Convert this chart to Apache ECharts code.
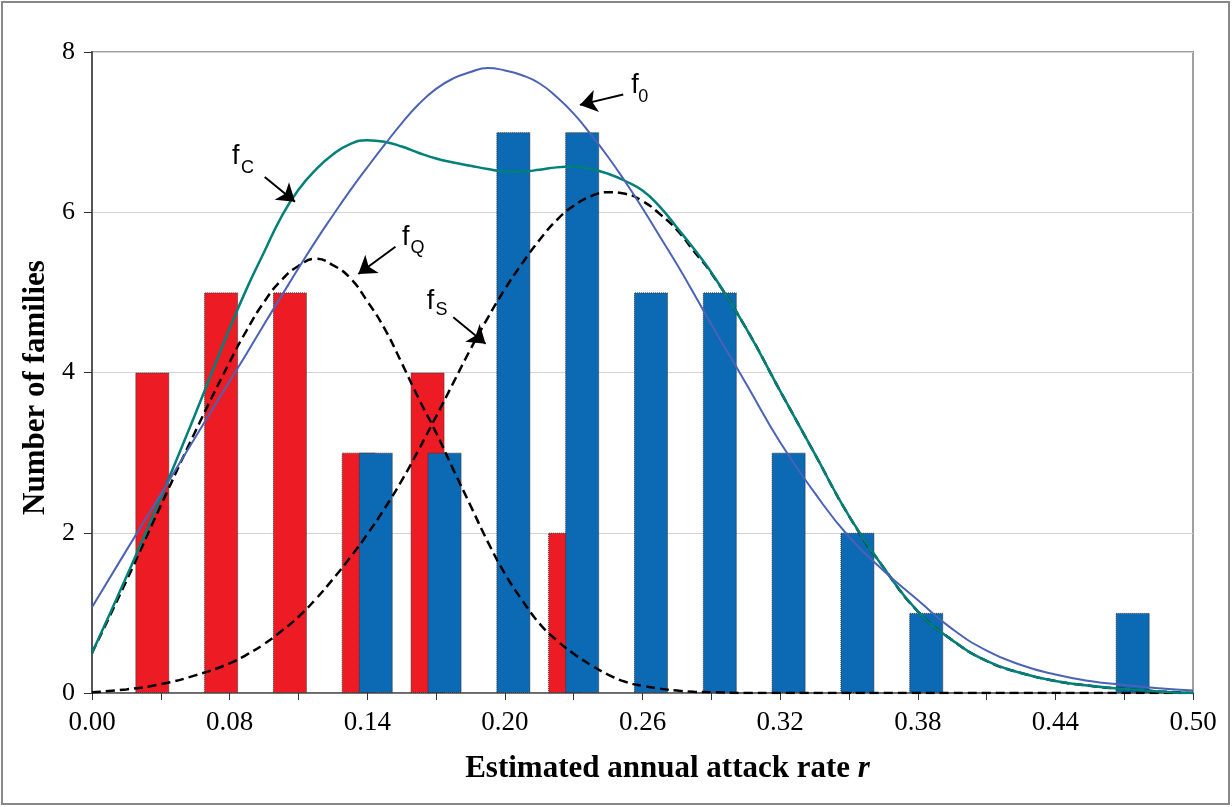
<!DOCTYPE html>
<html>
<head>
<meta charset="utf-8">
<script src="https://cdn.jsdelivr.net/npm/echarts@6/dist/echarts.min.js"></script>
<style>
  html, body { margin: 0; padding: 0; background: #fff; }
  #chart { width: 1232px; height: 807px; }
</style>
</head>
<body>
<div id="chart"></div>
<script>
// labels written under every second tick of the x axis
const tickLabels = ['0.00', '0.08', '0.14', '0.20', '0.26', '0.32', '0.38', '0.44', '0.50'];

// red bars (tick index, number of families)
const redPos = [1, 2, 3, 4, 5, 7];
const redCount = [4, 5, 5, 3, 4, 2];
// blue bars
const bluePos = [4, 5, 6, 7, 8, 9, 10, 11, 12, 15];
const blueCount = [3, 3, 7, 7, 5, 5, 3, 2, 1, 1];

// curves (denser where they bend)
const curveX = [0, 0.5, 1, 1.5, 2, 2.25, 2.5, 2.75, 3, 3.25, 3.5, 3.75, 4, 4.25, 4.5, 4.75, 5, 5.25, 5.5, 5.75,
  6, 6.25, 6.5, 6.75, 7, 7.25, 7.5, 7.75, 8, 8.25, 8.5, 8.75, 9, 9.5, 10, 10.5, 11, 11.5, 12, 12.5, 13, 13.5,
  14, 14.5, 15, 15.5, 16];
const f0 = [1.07, 1.78, 2.48, 3.19, 3.89, 4.24, 4.60, 4.95, 5.30, 5.64, 5.96, 6.27, 6.56, 6.84, 7.11, 7.35, 7.54,
  7.67, 7.75, 7.80, 7.77, 7.71, 7.61, 7.44, 7.23, 6.97, 6.69, 6.38, 6.05, 5.70, 5.35, 4.98, 4.60, 3.87, 3.13,
  2.50, 1.95, 1.53, 1.16, 0.80, 0.53, 0.35, 0.23, 0.15, 0.10, 0.06, 0.03];
const fC = [0.50, 1.45, 2.44, 3.48, 4.55, 5.05, 5.50, 5.94, 6.28, 6.53, 6.72, 6.85, 6.90, 6.88, 6.82, 6.74, 6.67,
  6.62, 6.58, 6.54, 6.51, 6.51, 6.53, 6.56, 6.57, 6.54, 6.48, 6.39, 6.27, 6.07, 5.81, 5.54, 5.25, 4.56, 3.77,
  2.99, 2.21, 1.57, 1.02, 0.66, 0.40, 0.25, 0.15, 0.09, 0.05, 0.02, 0.0];
const fQ = [0.50, 1.40, 2.34, 3.26, 4.13, 4.53, 4.88, 5.15, 5.33, 5.42, 5.34, 5.18, 4.89, 4.55, 4.12, 3.67, 3.25,
  2.79, 2.34, 1.89, 1.49, 1.16, 0.87, 0.66, 0.49, 0.35, 0.23, 0.14, 0.09, 0.055, 0.03, 0.015, 0.01, 0, 0,
  0, 0, 0, 0, 0, 0, 0, 0, 0, 0, 0, 0];
const fS = [0.01, 0.045, 0.11, 0.22, 0.37, 0.48, 0.61, 0.77, 0.95, 1.17, 1.42, 1.69, 1.98, 2.30, 2.65, 3.04, 3.45,
  3.87, 4.29, 4.68, 5.04, 5.36, 5.65, 5.90, 6.08, 6.20, 6.25, 6.23, 6.14, 5.98, 5.78, 5.51, 5.24, 4.56, 3.77,
  2.99, 2.21, 1.57, 1.02, 0.66, 0.40, 0.25, 0.15, 0.09, 0.05, 0.02, 0.0];

// curve names with arrows (positions in axis units)
const notes = [
  { f: [7.89, 7.58], sub: '0', subAt: [8.01, 7.44], from: [7.72, 7.47], to: [7.09, 7.34] },
  { f: [2.09, 6.70], sub: 'C', subAt: [2.26, 6.55], from: [2.51, 6.44], to: [2.95, 6.13] },
  { f: [4.56, 5.68], sub: 'Q', subAt: [4.73, 5.55], from: [4.41, 5.57], to: [3.87, 5.23] },
  { f: [4.92, 4.89], sub: 'S', subAt: [5.08, 4.78], from: [5.25, 4.69], to: [5.72, 4.36] }
];

const categories = [];
for (let i = 0; i <= 16; i++) categories.push(i % 2 === 0 ? tickLabels[i / 2] : '');

const serif = 'Liberation Serif, Times New Roman, serif';
const sans = 'Liberation Sans, Arial, sans-serif';

const pointLabels = [];
notes.forEach(n => {
  pointLabels.push({ coord: n.f, label: { formatter: 'f', fontSize: 27 } });
  pointLabels.push({ coord: n.subAt, label: { formatter: n.sub, fontSize: 18 } });
});

const chart = echarts.init(document.getElementById('chart'));
chart.setOption({
  animation: false,
  graphic: [{
    type: 'rect', silent: true,
    shape: { x: 2, y: 2, width: 1227, height: 802 },
    style: { fill: 'none', stroke: '#888', lineWidth: 2 }
  }],
  grid: { left: 92, right: 39, top: 52, bottom: 114, show: true, borderColor: '#A0A0A0', borderWidth: 2 },
  xAxis: [
    {
      type: 'category',
      data: categories,
      boundaryGap: false,
      axisLine: { lineStyle: { color: '#555', width: 1.5 } },
      axisTick: { show: true, interval: 0, length: 7, lineStyle: { color: '#333' } },
      axisLabel: { interval: 0, margin: 16, color: '#000', fontFamily: serif, fontSize: 27 },
      splitLine: { show: false },
      name: 'Estimated annual attack rate {i|r}',
      nameLocation: 'middle',
      nameGap: 60,
      nameTextStyle: {
        color: '#000', fontFamily: serif, fontSize: 31, fontWeight: 'bold', padding: [0, 0, 0, 50],
        rich: { i: { fontFamily: serif, fontSize: 31, fontWeight: 'bold', fontStyle: 'italic', color: '#000' } }
      }
    },
    { type: 'value', min: 0, max: 16, show: false }
  ],
  yAxis: {
    type: 'value',
    min: 0, max: 8, interval: 2,
    axisLine: { show: true, lineStyle: { color: '#555', width: 2 } },
    axisTick: { show: true, length: 8, lineStyle: { color: '#333' } },
    axisLabel: { margin: 17, color: '#000', fontFamily: serif, fontSize: 26 },
    splitLine: { lineStyle: { color: '#D4D4D4', width: 1 } },
    name: 'Number of families',
    nameLocation: 'middle',
    nameGap: 35,
    nameTextStyle: { color: '#000', fontFamily: serif, fontSize: 31, fontWeight: 'bold', padding: [0, 30, 0, 0] }
  },
  series: [
    {
      type: 'bar', xAxisIndex: 0,
      data: redPos.map((p, i) => [p, redCount[i]]),
      barWidth: 34, barGap: '-50%',
      itemStyle: { color: '#ED1C24', borderColor: '#333', borderWidth: 1, borderType: 'dotted' }
    },
    {
      type: 'bar', xAxisIndex: 0,
      data: bluePos.map((p, i) => [p, blueCount[i]]),
      barWidth: 34, barGap: '-50%',
      itemStyle: { color: '#0C69B3', borderColor: '#333', borderWidth: 1, borderType: 'dotted' }
    },
    {
      type: 'line', xAxisIndex: 1, smooth: 0.5, symbol: 'none',
      data: curveX.map((x, i) => [x, fQ[i]]),
      lineStyle: { color: '#000', width: 2.5, type: [9, 5] }
    },
    {
      type: 'line', xAxisIndex: 1, smooth: 0.5, symbol: 'none',
      data: curveX.map((x, i) => [x, fS[i]]),
      lineStyle: { color: '#000', width: 2.5, type: [9, 5] }
    },
    {
      type: 'line', xAxisIndex: 1, smooth: 0.5, symbol: 'none',
      data: curveX.map((x, i) => [x, fC[i]]),
      lineStyle: { color: '#008078', width: 2.5 }
    },
    {
      type: 'line', xAxisIndex: 1, smooth: 0.5, symbol: 'none',
      data: curveX.map((x, i) => [x, f0[i]]),
      lineStyle: { color: '#4A63B6', width: 2 },
      markLine: {
        silent: true,
        symbol: ['none', 'arrow'],
        symbolSize: 17,
        label: { show: false },
        lineStyle: { color: '#000', width: 2, type: 'solid' },
        data: notes.map(n => [{ coord: n.from }, { coord: n.to }])
      },
      markPoint: {
        silent: true,
        symbol: 'circle',
        symbolSize: 0,
        itemStyle: { color: 'rgba(0,0,0,0)' },
        label: { show: true, position: 'inside', color: '#000', fontFamily: sans },
        data: pointLabels
      }
    }
  ]
});
</script>
</body>
</html>
